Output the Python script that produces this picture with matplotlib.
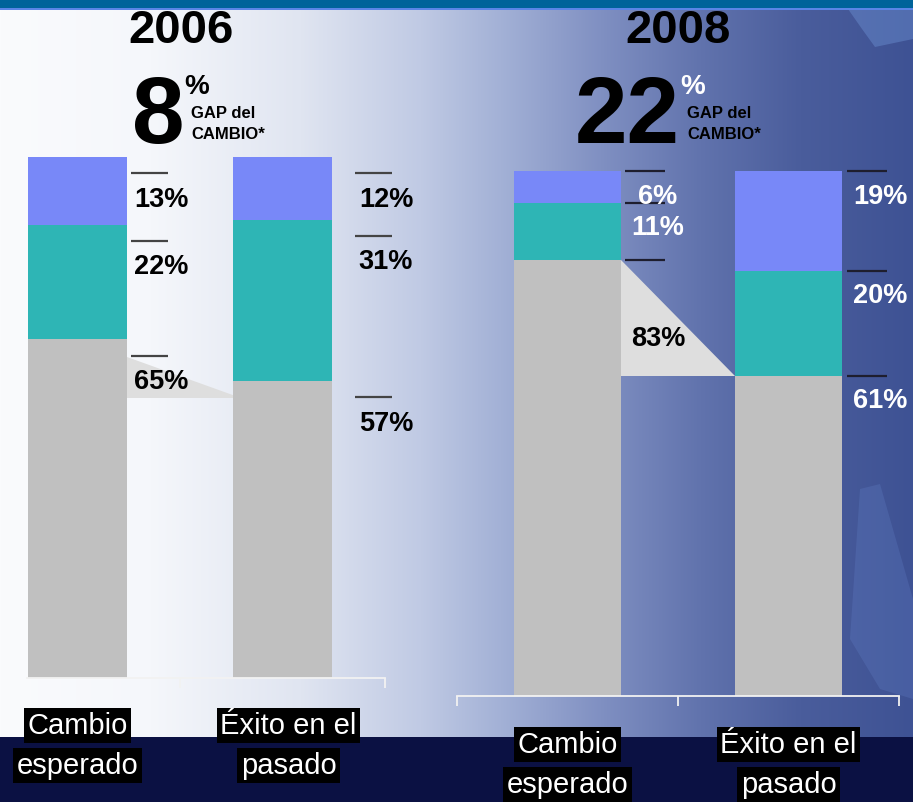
import numpy as np
import matplotlib
matplotlib.use("Agg")
import matplotlib.pyplot as plt
from matplotlib.patches import Polygon, Rectangle
from matplotlib.transforms import blended_transform_factory

plt.rcParams['font.family'] = ['Liberation Sans', 'DejaVu Sans']

# ---------------- data ----------------
years = ["2006", "2008"]
gap_values = ["8", "22"]
categories = ["Cambio\nesperado", "Éxito en el\npasado"]
segment_names = ["bajo", "medio", "alto"]          # bottom -> top
gray_2006 = [65, 57]
teal_2006 = [22, 31]
blue_2006 = [13, 12]
gray_2008 = [83, 61]
teal_2008 = [11, 20]
blue_2008 = [6, 19]

COL_GRAY = "#c0c0c0"
COL_TEAL = "#2eb5b5"
COL_BLUE = "#7888f8"
COL_TRI = "#dedede"

W, H = 913, 803
fig = plt.figure(figsize=(W / 100, H / 100), dpi=100)


def fx(x):
    return x / W


def fy(y):
    return 1 - y / H


# ---------------- background ----------------
bg = fig.add_axes([0, 0, 1, 1], zorder=-10)
bg.set_axis_off()
xs = np.arange(W)
stops_x = [0, 150, 300, 420, 500, 600, 700, 800, 913]
stops_c = np.array([(250, 251, 253), (245, 247, 251), (224, 229, 241), (192, 202, 228),
                    (163, 177, 214), (128, 144, 194), (97, 115, 173), (74, 93, 156),
                    (62, 82, 148)]) / 255.0
row = np.stack([np.interp(xs, stops_x, stops_c[:, k]) for k in range(3)], axis=-1)
img = np.repeat(row[None, :, :], H, axis=0)
bg.imshow(img, extent=[0, W, H, 0], aspect='auto', interpolation='bilinear')
bg.set_xlim(0, W)
bg.set_ylim(H, 0)
# decorative light shapes on the right
bg.add_patch(Polygon([[848, 10], [913, 10], [913, 40], [875, 48], [862, 30]], closed=True,
                     fc=(0.42, 0.56, 0.82), alpha=0.45, ec='none'))
bg.add_patch(Polygon([[860, 490], [880, 485], [913, 600], [913, 700], [880, 690], [850, 640]],
                     closed=True, fc=(0.40, 0.52, 0.80), alpha=0.25, ec='none'))
# top band
bg.add_patch(Rectangle((0, 0), W, 9, fc="#00639a", ec='none'))
bg.add_patch(Rectangle((0, 9), W, 1.5, fc="#5b85e6", ec='none'))
# bottom band
bg.add_patch(Rectangle((0, 738), W, H - 738, fc="#0b1143", ec='none'))

# ---------------- panels ----------------
panels = [
    dict(year=years[0], gap=gap_values[0], gray=gray_2006, teal=teal_2006, blue=blue_2006,
         rect=[fx(27), fy(679), fx(385) - fx(27), (679 - 158) / H], xlim=(-0.246, 1.5),
         ticks=[0.5, 1.5], line_off=-3.1, text_off=-4.3, dx=[0.0, 0.095],
         txt_col=['black', 'black', 'black'], tri_off=-3.3, tri_label_inside=False,
         line_col="#444444", year_x=181, num_right=182, pct_col='black',
         cat_y=[726, 766]),
    dict(year=years[1], gap=gap_values[1], gray=gray_2008, teal=teal_2008, blue=blue_2008,
         rect=[fx(457), fy(697), fx(899) - fx(457), (697 - 172) / H], xlim=(-0.5, 1.5),
         ticks=[-0.5, 0.5, 1.5], line_off=0.0, text_off=-4.1, dx=[0.0, 0.005],
         txt_col=['white', 'white', 'white'], tri_off=0.0, tri_label_inside=True,
         line_col="#1e1e2e", year_x=678, num_right=678, pct_col='white',
         cat_y=[745, 785]),
]

bw = 0.48
for p in panels:
    ax = fig.add_axes(p['rect'])
    ax.patch.set_alpha(0)
    x = np.arange(len(categories))
    g = np.array(p['gray'], float)
    t = np.array(p['teal'], float)
    b = np.array(p['blue'], float)
    ax.bar(x, g, bw, color=COL_GRAY, zorder=2)
    ax.bar(x, t, bw, bottom=g, color=COL_TEAL, zorder=2)
    ax.bar(x, b, bw, bottom=g + t, color=COL_BLUE, zorder=2)
    ax.set_xlim(*p['xlim'])
    ax.set_ylim(0, 100)
    for s in ['top', 'right', 'left']:
        ax.spines[s].set_visible(False)
    ax.spines['bottom'].set_color('#f2f2f2')
    ax.spines['bottom'].set_linewidth(1.3)
    ax.set_yticks([])
    ax.set_xticks(p['ticks'])
    ax.set_xticklabels([])
    ax.tick_params(axis='x', direction='out', length=7, width=1.3, color='#f2f2f2')

    # connecting triangle between gray segments
    off = p['tri_off']
    tri = [[0 + bw / 2, g[0] + off], [0 + bw / 2, g[1] + off], [1 - bw / 2 + (0.04 if off else 0), g[1] + off]]
    ax.add_patch(Polygon(tri, closed=True, fc=COL_TRI, ec='none', zorder=1, clip_on=False))

    # value labels
    for i in range(len(categories)):
        tops = [g[i], g[i] + t[i], g[i] + t[i] + b[i]]
        vals = [g[i], t[i], b[i]]
        for k in range(3):
            ly = tops[k] + p['line_off']
            x0 = i + 0.26 + p['dx'][i]
            ax.plot([x0, x0 + 0.18], [ly, ly], color=p['line_col'], lw=1.6,
                    clip_on=False, zorder=5, solid_capstyle='butt')
            ty = ly + p['text_off']
            col = p['txt_col'][k]
            if k == 0 and i == 0 and p['tri_label_inside']:
                ty = g[1] + (g[0] - g[1]) * 0.35
                col = 'black'
            ax.text(i + 0.41 + p['dx'][i], ty, f"{int(vals[k])}%", ha='center',
                    va='center_baseline', fontsize=19.5, fontweight='bold', color=col,
                    clip_on=False, zorder=6)

    # category labels in black boxes
    trans = blended_transform_factory(ax.transData, fig.transFigure)
    for i, cat in enumerate(categories):
        for j, line in enumerate(cat.split("\n")):
            ax.text(i + (0.03 if i == 1 and p is panels[0] else 0), fy(p['cat_y'][j]), line,
                    transform=trans, ha='center', va='center', fontsize=21, color='white',
                    bbox=dict(boxstyle='square,pad=0.12', fc='black', ec='none'),
                    clip_on=False, zorder=7)

    # header
    fig.text(fx(p['year_x']), fy(43), p['year'], ha='center', va='baseline',
             fontsize=34, fontweight='bold', color='black')
    fig.text(fx(p['num_right'] + 2), fy(143), p['gap'], ha='right', va='baseline',
             fontsize=68, fontweight='bold', color='black')
    fig.text(fx(p['num_right'] + 2), fy(94), "%", ha='left', va='baseline',
             fontsize=20, fontweight='bold', color=p['pct_col'])
    fig.text(fx(p['num_right'] + 9), fy(118), "GAP del", ha='left', va='baseline',
             fontsize=12, fontweight='bold', color='black')
    fig.text(fx(p['num_right'] + 9), fy(139), "CAMBIO*", ha='left', va='baseline',
             fontsize=12, fontweight='bold', color='black')

fig.savefig("out.png", dpi=100)
